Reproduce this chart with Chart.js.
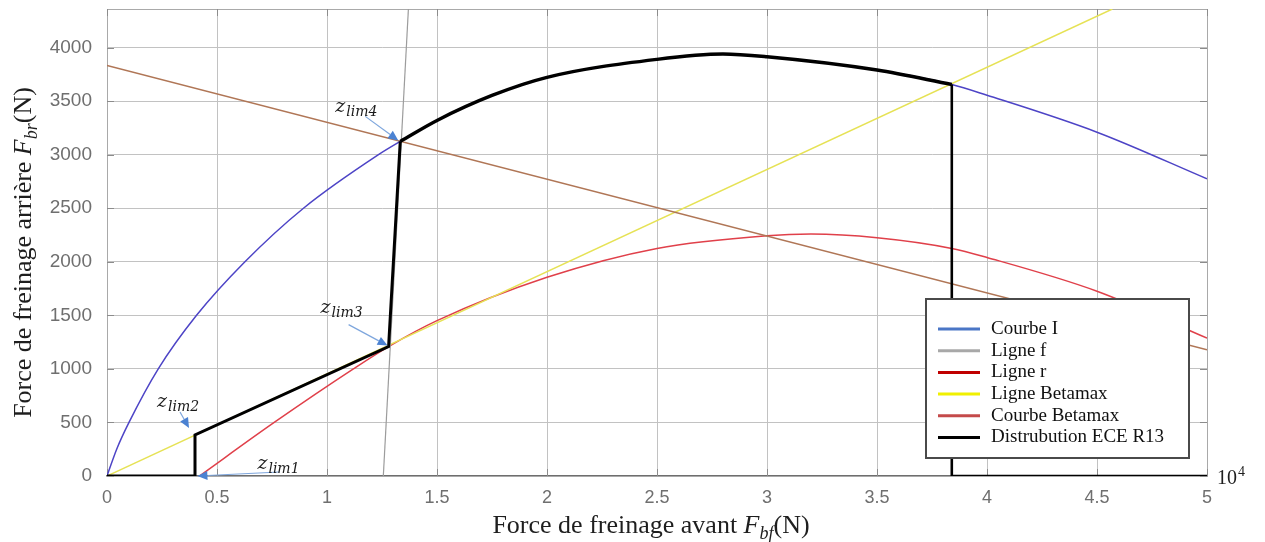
<!DOCTYPE html>
<html>
<head>
<meta charset="utf-8">
<script src="https://cdn.jsdelivr.net/npm/chart.js@4.4.1/dist/chart.umd.min.js"></script>
<style>
  html, body { margin: 0; padding: 0; background: #fff; }
  #wrap { width: 1265px; height: 542px; }
</style>
</head>
<body>
<div id="wrap"><canvas id="myChart" width="1265" height="542"></canvas></div>
<script>
// forces in N
const courbeIX = [0, 440, 1000, 2330, 4070, 6270, 8930, 12340, 13330, 15000, 17500, 20000, 25000, 28000, 30000, 35000, 38400, 40000, 45000, 50000]
const courbeIY = [0, 250, 500, 1000, 1500, 2000, 2500, 3000, 3124, 3320, 3553, 3722, 3890, 3940, 3914, 3790, 3655, 3555, 3210, 2775]

const ligneFX = [12560, 13700]
const ligneFY = [0, 4360]

const ligneRX = [0, 50000]
const ligneRY = [3832, 1178]

const betamaxLineX = [0, 45700]
const betamaxLineY = [0, 4360]

const betamaxCurveX = [4200, 7600, 11200, 12800, 15000, 20000, 25000, 30000, 32000, 35000, 38400, 40000, 45000, 50000]
const betamaxCurveY = [0, 500, 1000, 1208, 1450, 1855, 2125, 2243, 2259, 2225, 2125, 2040, 1725, 1287]

// ECE R13 distribution: steps up to z_lim4, then along courbe I, then drop
const eceHeadX = [0, 4000, 4000, 12800, 13330]
const eceHeadY = [0, 0, 383, 1208, 3124]
const eceTailX = [38400, 38400, 50000]
const eceTailY = [3655, 0, 0]

const zlimNames = ['lim1', 'lim2', 'lim3', 'lim4']
const zlimX = [4200, 4000, 12800, 13330]
const zlimY = [0, 383, 1208, 3124]

const xTicks = [0, 5000, 10000, 15000, 20000, 25000, 30000, 35000, 40000, 45000, 50000]
const yTicks = [0, 500, 1000, 1500, 2000, 2500, 3000, 3500, 4000]

function pts(xs, ys) {
    return xs.map((x, i) => ({x: x, y: ys[i]}))
}

const eceArc = pts(courbeIX, courbeIY).filter(p => p.x >= 13330 && p.x <= 38400)

const serif = '"Liberation Serif", "Times New Roman", serif'
const mathFont = '"DejaVu Serif", serif'

function drawParts(ctx, parts, x, y) {
    let w = 0
    parts.forEach(p => { ctx.font = p[1]; w += ctx.measureText(p[0]).width })
    let cx = x - w / 2
    parts.forEach(p => {
        ctx.font = p[1]
        ctx.fillText(p[0], cx, y + (p[2] || 0))
        cx += ctx.measureText(p[0]).width
    })
}

function drawArrow(ctx, x0, y0, x1, y1) {
    const a = Math.atan2(y1 - y0, x1 - x0)
    const len = 10, half = 4.5
    const bx = x1 - len * Math.cos(a), by = y1 - len * Math.sin(a)
    ctx.strokeStyle = '#7ea6dd'
    ctx.lineWidth = 1.2
    ctx.beginPath(); ctx.moveTo(x0, y0); ctx.lineTo(bx, by); ctx.stroke()
    ctx.fillStyle = '#4b82d2'
    ctx.beginPath()
    ctx.moveTo(x1, y1)
    ctx.lineTo(bx + half * Math.sin(a), by - half * Math.cos(a))
    ctx.lineTo(bx - half * Math.sin(a), by + half * Math.cos(a))
    ctx.closePath()
    ctx.fill()
}

// box around the plot with small inward ticks
const frame = {
    id: 'frame',
    beforeDatasetsDraw(chart) {
        const {ctx, chartArea: a, scales: {x, y}} = chart
        ctx.save()
        ctx.strokeStyle = '#a9a9a9'
        ctx.lineWidth = 1
        ctx.strokeRect(a.left + 0.5, a.top + 0.5, a.right - a.left, a.bottom - a.top)
        ctx.strokeStyle = '#8c8c8c'
        ctx.beginPath()
        x.ticks.forEach(t => {
            const px = Math.round(x.getPixelForValue(t.value)) + 0.5
            ctx.moveTo(px, a.top); ctx.lineTo(px, a.top + 7)
            ctx.moveTo(px, a.bottom); ctx.lineTo(px, a.bottom - 7)
        })
        y.ticks.forEach(t => {
            const py = Math.round(y.getPixelForValue(t.value)) + 0.5
            ctx.moveTo(a.left, py); ctx.lineTo(a.left + 7, py)
            ctx.moveTo(a.right, py); ctx.lineTo(a.right - 7, py)
        })
        ctx.stroke()
        ctx.restore()
    }
}

// z_lim arrows, offsets in px from each point
const noteOffsets = [
    {tip: [-2, 0], from: [80, -4], text: [58, -7]},
    {tip: [-6, -7], from: [-15, -23], text: [-38, -28]},
    {tip: [-1, -1], from: [-40, -22], text: [-68, -34]},
    {tip: [-2, -1], from: [-35, -25], text: [-65, -29]}
]

const zlimNotes = {
    id: 'zlimNotes',
    afterDatasetsDraw(chart) {
        const {ctx, scales: {x, y}} = chart
        ctx.save()
        zlimX.forEach((vx, i) => {
            const px = x.getPixelForValue(vx), py = y.getPixelForValue(zlimY[i])
            const o = noteOffsets[i]
            drawArrow(ctx, px + o.from[0], py + o.from[1], px + o.tip[0], py + o.tip[1])
            ctx.fillStyle = '#1a1a1a'
            ctx.textBaseline = 'alphabetic'
            ctx.textAlign = 'left'
            ctx.font = 'italic 19px ' + mathFont
            const tx = px + o.text[0], ty = py + o.text[1]
            ctx.fillText('z', tx, ty)
            const zw = ctx.measureText('z').width
            ctx.font = 'italic 14px ' + mathFont
            ctx.fillText(zlimNames[i], tx + zw + 1, ty + 4)
        })
        ctx.restore()
    }
}

const titles = {
    id: 'titles',
    afterDraw(chart) {
        const {ctx, chartArea: a} = chart
        ctx.save()
        ctx.fillStyle = '#1e1e1e'
        ctx.textBaseline = 'alphabetic'
        ctx.textAlign = 'left'
        drawParts(ctx, [
            ['Force de freinage avant ', '26px ' + serif],
            ['F', 'italic 26px ' + serif],
            ['bf', 'italic 18px ' + serif, 6],
            ['(N)', '26px ' + serif]
        ], (a.left + a.right) / 2 - 6, 533)

        ctx.translate(31, (a.top + a.bottom) / 2 + 10)
        ctx.rotate(-Math.PI / 2)
        drawParts(ctx, [
            ['Force de freinage arrière ', '26px ' + serif],
            ['F', 'italic 26px ' + serif],
            ['br', 'italic 18px ' + serif, 6],
            ['(N)', '26px ' + serif]
        ], 0, 0)
        ctx.restore()

        ctx.save()
        ctx.fillStyle = '#1e1e1e'
        ctx.font = '20px ' + serif
        ctx.fillText('10', a.right + 10, a.bottom + 8)
        const w = ctx.measureText('10').width
        ctx.font = '14px ' + serif
        ctx.fillText('4', a.right + 11 + w, a.bottom)
        ctx.restore()
    }
}

const boxLegend = {
    id: 'boxLegend',
    afterDraw(chart) {
        const {ctx, chartArea: a} = chart
        const items = chart.data.datasets.filter(d => !d.legendSkip)
        const w = 263, h = 159
        const bx = a.right - 18 - w, by = a.bottom - 18 - h
        ctx.save()
        ctx.fillStyle = '#fff'
        ctx.fillRect(bx, by, w, h)
        ctx.strokeStyle = '#4a4a4a'
        ctx.lineWidth = 2
        ctx.strokeRect(bx, by, w, h)
        ctx.textBaseline = 'middle'
        ctx.textAlign = 'left'
        ctx.font = '19px ' + serif
        items.forEach((d, i) => {
            const ry = by + 30 + i * 21.7
            ctx.strokeStyle = d.legendColor
            ctx.lineWidth = 3
            ctx.beginPath(); ctx.moveTo(bx + 12, ry); ctx.lineTo(bx + 54, ry); ctx.stroke()
            ctx.fillStyle = '#111'
            ctx.fillText(d.label, bx + 65, ry)
        })
        ctx.restore()
    }
}

const thin = {showLine: true, pointRadius: 0, borderWidth: 1.5, fill: false, order: 1}

const data = {
    datasets: [
        Object.assign({}, thin, {label: 'Courbe I', data: pts(courbeIX, courbeIY), borderColor: '#4d44c6',
            legendColor: '#4a76c6', cubicInterpolationMode: 'monotone'}),
        Object.assign({}, thin, {label: 'Ligne f', data: pts(ligneFX, ligneFY), borderColor: '#9c9c9c',
            legendColor: '#a8a8a8', borderWidth: 1.2}),
        Object.assign({}, thin, {label: 'Ligne r', data: pts(ligneRX, ligneRY), borderColor: '#b07656',
            legendColor: '#c00000'}),
        Object.assign({}, thin, {label: 'Ligne Betamax', data: pts(betamaxLineX, betamaxLineY), borderColor: '#e6e255',
            legendColor: '#f0f000'}),
        Object.assign({}, thin, {label: 'Courbe Betamax', data: pts(betamaxCurveX, betamaxCurveY), borderColor: '#e0404a',
            legendColor: '#c44a4a', cubicInterpolationMode: 'monotone'}),
        {label: 'Distrubution ECE R13', data: pts(eceHeadX, eceHeadY), borderColor: '#000', legendColor: '#000',
            showLine: true, pointRadius: 0, borderWidth: 3, order: 0},
        {label: 'ECE arc', data: eceArc, borderColor: '#000', legendSkip: true,
            showLine: true, pointRadius: 0, borderWidth: 3.4, order: 0, cubicInterpolationMode: 'monotone'},
        {label: 'ECE tail', data: pts(eceTailX, eceTailY), borderColor: '#000', legendSkip: true,
            showLine: true, pointRadius: 0, borderWidth: 2.6, order: 0}
    ]
}

const tickFont = {family: '"Liberation Sans", Arial, sans-serif', size: 18}

const config = {
    type: 'scatter',
    data: data,
    options: {
        responsive: false,
        animation: false,
        events: [],
        layout: {padding: {left: 0, right: 58, top: 9, bottom: 0}},
        plugins: {legend: {display: false}, tooltip: {enabled: false}},
        scales: {
            x: {
                type: 'linear', min: 0, max: 50000,
                afterBuildTicks: s => { s.ticks = xTicks.map(v => ({value: v})) },
                ticks: {
                    callback: v => String(v / 10000),
                    color: '#6f6f6f', font: tickFont, padding: 11, maxRotation: 0, autoSkip: false
                },
                grid: {color: '#c2c2c2', drawTicks: false},
                border: {color: '#6e6e6e', width: 1.5},
                afterFit: s => { s.height = 66; s.paddingLeft = 0; s.paddingRight = 0 }
            },
            y: {
                type: 'linear', min: 0, max: 4360,
                afterBuildTicks: s => { s.ticks = yTicks.map(v => ({value: v})) },
                ticks: {callback: v => String(v), color: '#6f6f6f', font: {family: tickFont.family, size: 19}, padding: 15, autoSkip: false},
                grid: {color: '#c2c2c2', drawTicks: false},
                border: {color: '#a9a9a9'},
                afterFit: s => { s.width = 107; s.paddingTop = 0; s.paddingBottom = 0 }
            }
        }
    },
    plugins: [frame, zlimNotes, titles, boxLegend]
}

const myChart = new Chart(document.getElementById('myChart'), config)
</script>
</body>
</html>
